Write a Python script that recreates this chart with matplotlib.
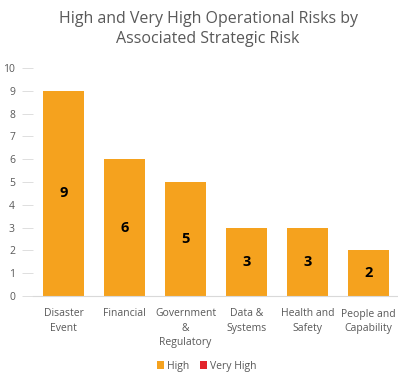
import matplotlib
matplotlib.use("Agg")
import matplotlib.pyplot as plt
import numpy as np

categories = ["Disaster\nEvent", "Financial", "Government\n&\nRegulatory", "Data &\nSystems", "Health and\nSafety", "People and\nCapability"]
high = [9, 6, 5, 3, 3, 2]
very_high = [0, 0, 0, 0, 0, 0]
yticks = list(range(0, 11))

plt.rcParams['font.family'] = ['Open Sans', 'DejaVu Sans']
gray = '#595959'

fig = plt.figure(figsize=(3.98, 3.76), dpi=100)
ax = fig.add_axes([33/398, 1-296/376, 366/398, (296-68)/376])
x = np.arange(len(categories))
w = 0.66
ax.bar(x, high, width=w, color='#F5A21E', label='High', zorder=2)
ax.bar(x, very_high, width=w, bottom=high, color='#E3242B', label='Very High', zorder=2)
for xi, v in zip(x, high):
    ax.text(xi, v/2, str(v), ha='center', va='center', fontsize=10.5, fontweight='bold', color='black')

ax.set_xlim(-0.5, len(categories)-0.5)
ax.set_ylim(0, 10)
ax.set_yticks(yticks)
ax.set_xticks(x)
ax.set_xticklabels(categories, fontsize=7.5, color=gray, linespacing=1.4)
ax.tick_params(axis='y', labelsize=7.5, colors=gray, length=8, width=0.6, color='#D9D9D9', pad=5)
ax.tick_params(axis='x', length=0, pad=9)
for s in ['top', 'right', 'left']:
    ax.spines[s].set_visible(False)
ax.spines['bottom'].set_color('#D9D9D9')
ax.spines['bottom'].set_linewidth(0.8)

fig.text(208/398, 1-29/376, "High and Very High Operational Risks by\nAssociated Strategic Risk",
         ha='center', va='center', fontsize=11.5, color=gray, linespacing=1.3)

leg = fig.legend(loc='center', bbox_to_anchor=(207/398, 1-366/376), ncol=2, frameon=False,
                 fontsize=7.5, handlelength=0.7, handleheight=0.7, handletextpad=0.3, columnspacing=1.0)
for t in leg.get_texts():
    t.set_color(gray)

fig.savefig("out.png", dpi=100)
